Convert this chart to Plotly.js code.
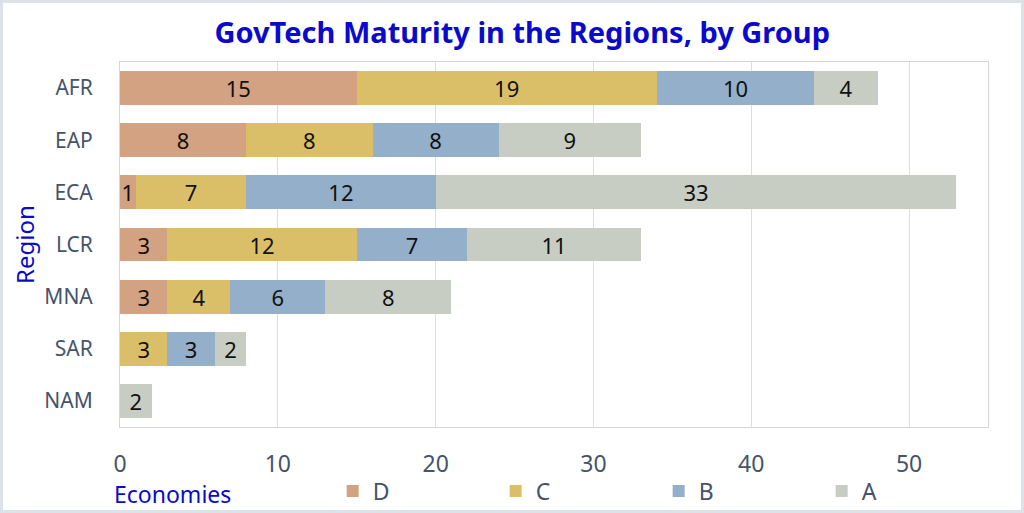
<!DOCTYPE html>
<html><head><meta charset="utf-8">
<script src="https://cdn.plot.ly/plotly-3.0.1.min.js"></script>
<style>
html,body{margin:0;padding:0;background:#fff;}
#wrap{position:relative;width:1024px;height:513px;}
#chart{width:1024px;height:513px;}
#frame{position:absolute;left:0;top:0;width:1024px;height:513px;box-sizing:border-box;border:3px solid #dde2e8;pointer-events:none;}
</style></head>
<body>
<div id="wrap"><div id="chart"></div><div id="frame"></div></div>
<script>
const regions = ["AFR","EAP","ECA","LCR","MNA","SAR","NAM"];
const groupD = [15, 8, 1, 3, 3, 0, 0];
const groupC = [19, 8, 7, 12, 4, 3, 0];
const groupB = [10, 8, 12, 7, 6, 3, 0];
const groupA = [4, 9, 33, 11, 8, 2, 2];
const groupNames = ["D","C","B","A"];
const colors = ["#d2a283","#dbbf68","#93afca","#c8cdc3"];

const series = [groupD, groupC, groupB, groupA];
const traces = series.map((vals, i) => ({
  type: 'bar', orientation: 'h', name: groupNames[i],
  y: regions, x: vals,
  text: vals.map(v => v > 0 ? String(v) : ''),
  textposition: 'inside', insidetextanchor: 'middle', textangle: 0,
  constraintext: 'none', cliponaxis: false,
  textfont: {family: 'Noto Sans, sans-serif', size: 22, color: '#111'},
  marker: {color: colors[i], line: {width: 0}},
  hoverinfo: 'x+y+name'
}));

const layout = {
  width: 1024, height: 513,
  margin: {l: 120, r: 36, t: 62, b: 86, autoexpand: false},
  paper_bgcolor: '#fff', plot_bgcolor: '#fff',
  barmode: 'stack', bargap: 0.35,
  showlegend: true,
  title: {text: 'GovTech Maturity in the Regions, by Group', x: 0.51, xanchor: 'center', y: 0.935, yanchor: 'middle',
          font: {family: 'Noto Sans, sans-serif', size: 29, color: '#0a0acc', weight: 'bold'}},
  xaxis: {range: [0, 55], dtick: 10, tick0: 0, showgrid: true, gridcolor: '#d9dee8', gridwidth: 1,
          zeroline: false, showline: true, linecolor: '#d3d6db', mirror: true, ticks: '',
          ticklabelstandoff: 16, automargin: false,
          tickfont: {family: 'Noto Sans, sans-serif', size: 23, color: '#44546a'}},
  yaxis: {autorange: 'reversed', showgrid: false, zeroline: false, showline: true, linecolor: '#d3d6db', mirror: true,
          ticks: '', ticklabelstandoff: 22, automargin: false,
          tickfont: {family: 'Noto Sans, sans-serif', size: 21, color: '#44546a'}},
  legend: {orientation: 'h', x: 0.245, xanchor: 'left', yref: 'container', y: 0.043, yanchor: 'middle',
           entrywidth: 118, entrywidthmode: 'pixels', traceorder: 'normal',
           font: {family: 'Noto Sans, sans-serif', size: 23, color: '#44546a'}, bgcolor: 'rgba(0,0,0,0)'},
  annotations: [
    {text: 'Economies', xref: 'paper', yref: 'paper', x: -0.009, xanchor: 'left', y: -0.183, yanchor: 'middle',
     showarrow: false, font: {family: 'Noto Sans, sans-serif', size: 23, color: '#0a0acc'}},
    {text: 'Region', xref: 'paper', yref: 'paper', x: -0.11, xanchor: 'center', y: 0.5, yanchor: 'middle',
     textangle: -90, showarrow: false, font: {family: 'Noto Sans, sans-serif', size: 24, color: '#0a0acc'}}
  ]
};
Plotly.newPlot('chart', traces, layout, {displayModeBar: false, responsive: false});
</script>
</body></html>
